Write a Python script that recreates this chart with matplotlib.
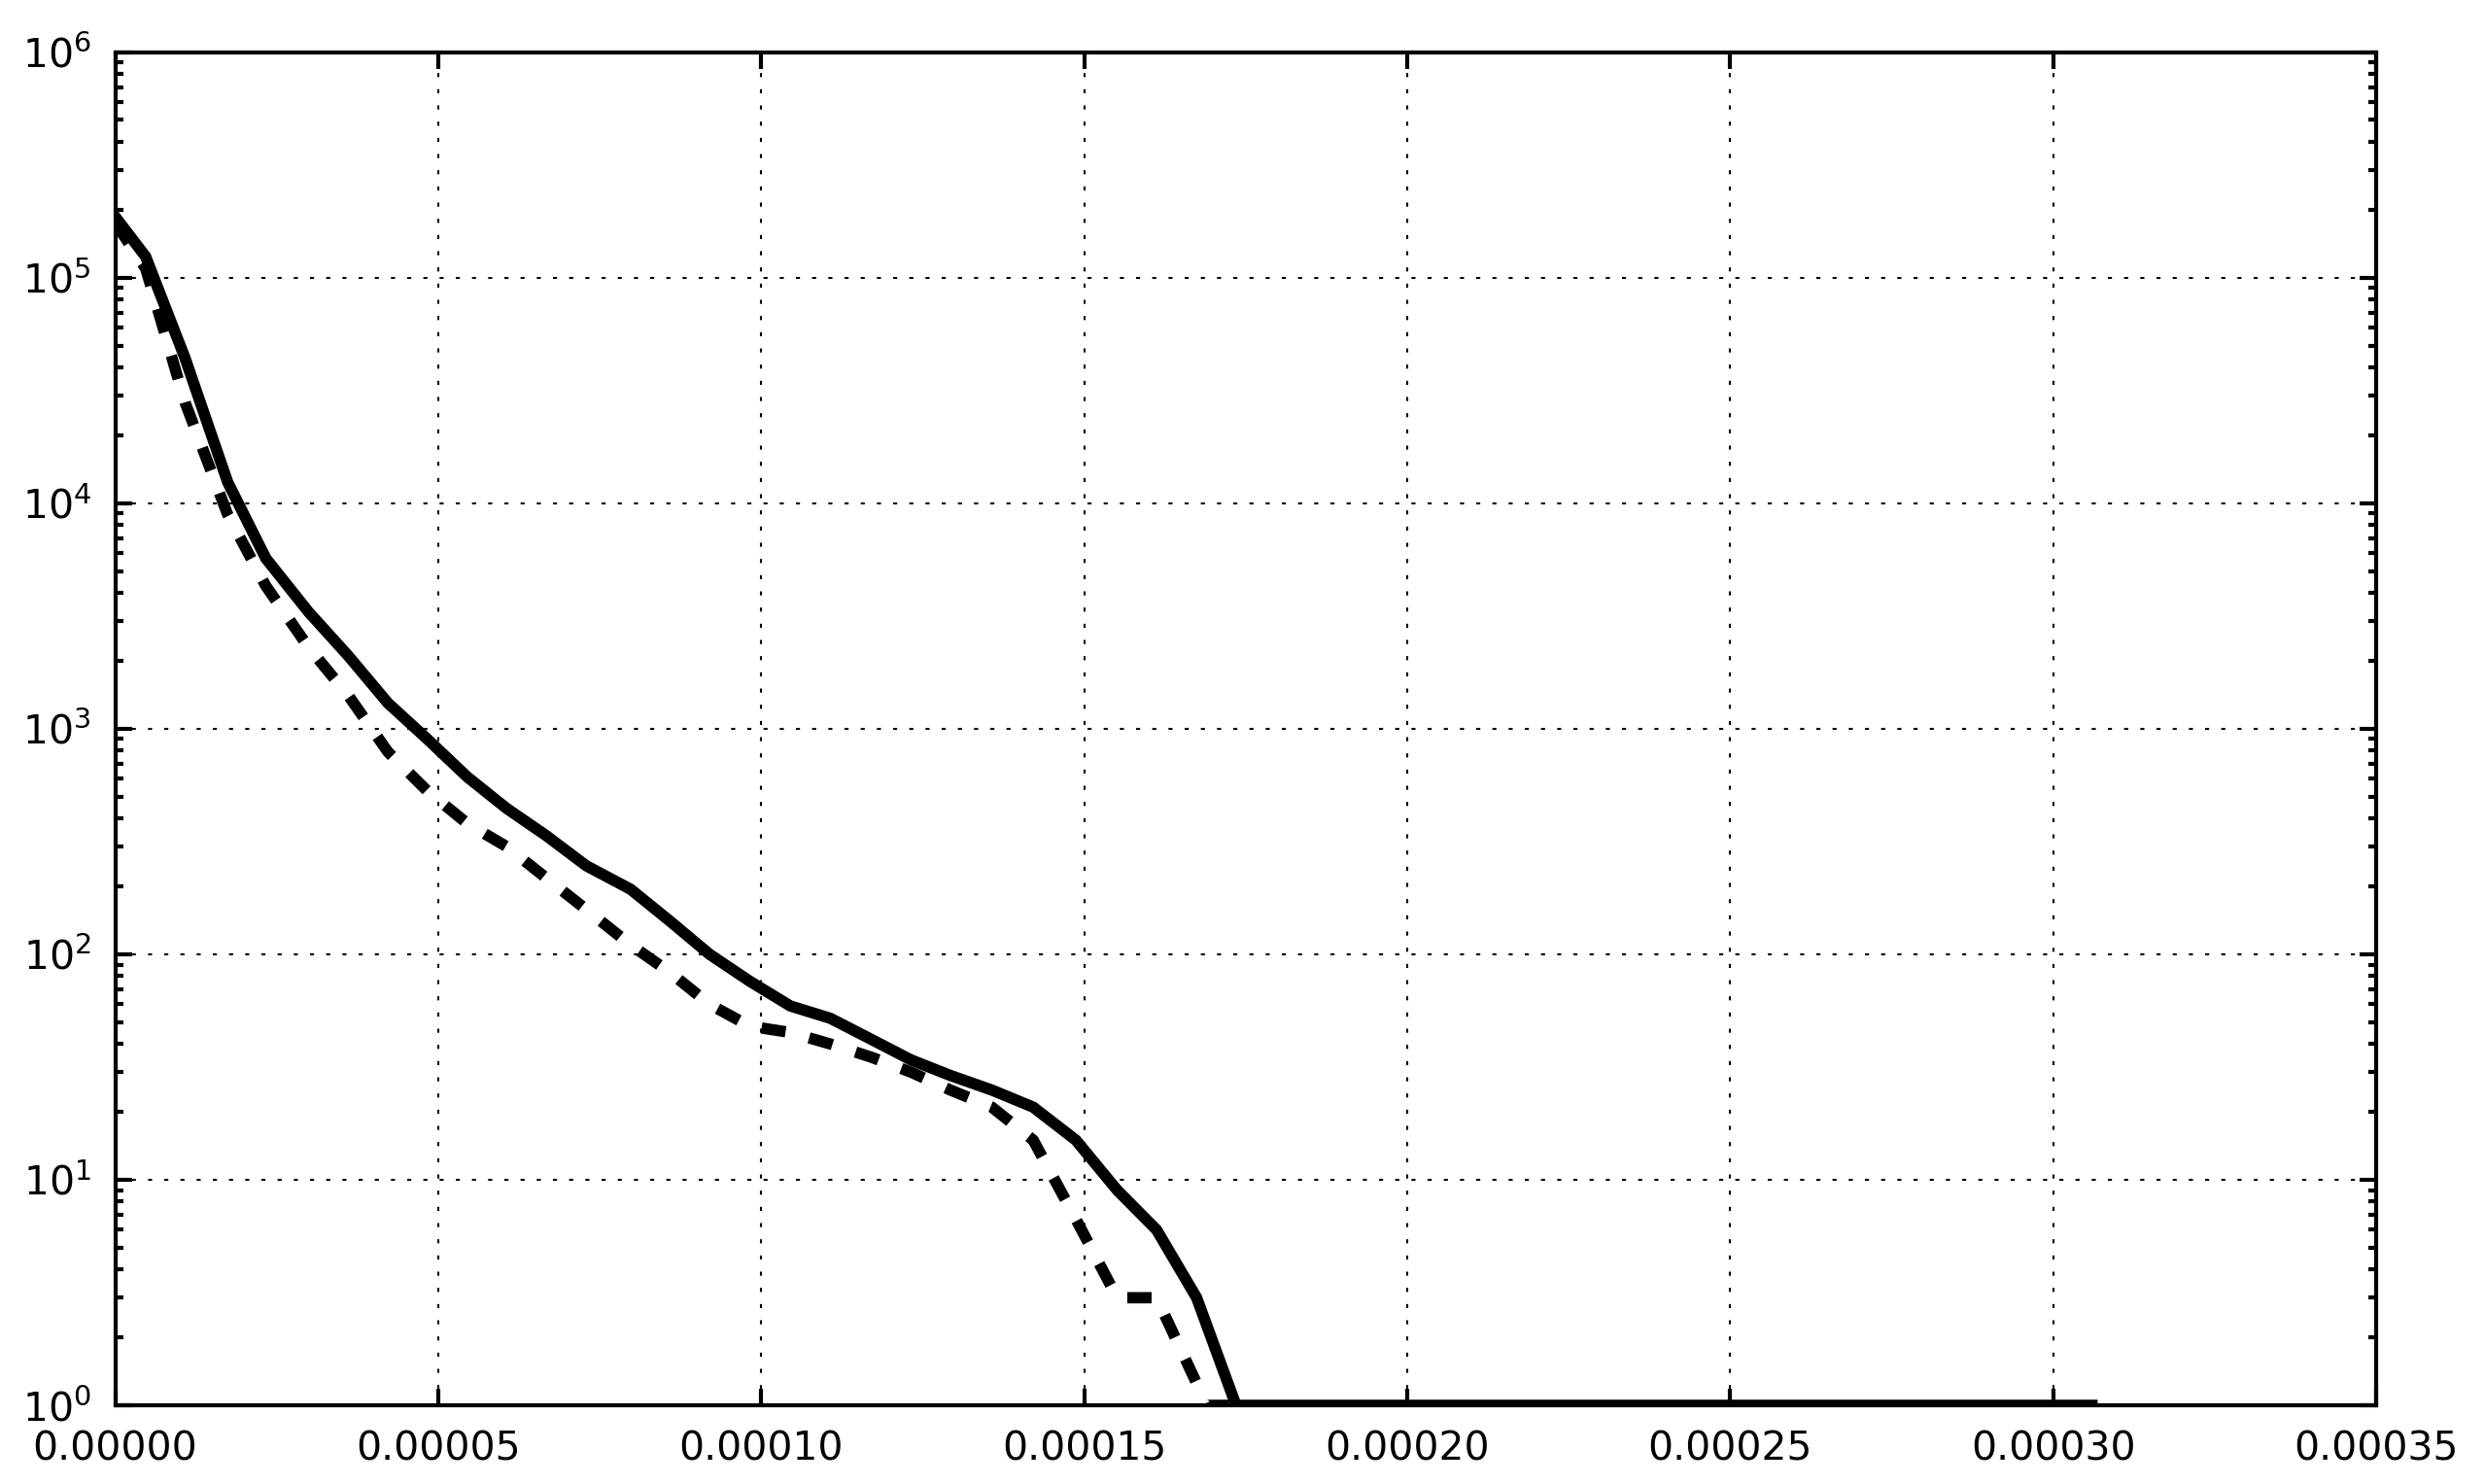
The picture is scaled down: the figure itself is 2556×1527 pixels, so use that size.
import matplotlib
matplotlib.use("Agg")
import matplotlib.pyplot as plt
from matplotlib.ticker import FormatStrFormatter, MultipleLocator

# classic-looking settings
plt.rcParams['lines.scale_dashes'] = False
plt.rcParams['xtick.direction'] = 'in'
plt.rcParams['ytick.direction'] = 'in'
plt.rcParams['xtick.top'] = True
plt.rcParams['ytick.right'] = True
plt.rcParams['xtick.major.size'] = 4
plt.rcParams['ytick.major.size'] = 4
plt.rcParams['ytick.minor.size'] = 2
plt.rcParams['xtick.major.pad'] = 6
plt.rcParams['ytick.major.pad'] = 6
plt.rcParams['font.size'] = 9.8

# solid curve
x_solid = [0.0, 4.7e-6, 1.08e-5, 1.74e-5, 2.33e-5, 2.99e-5, 3.61e-5, 4.22e-5,
           4.83e-5, 5.45e-5, 6.06e-5, 6.67e-5, 7.29e-5, 7.98e-5, 8.59e-5,
           9.2e-5, 9.82e-5, 1.045e-4, 1.107e-4, 1.17e-4, 1.232e-4, 1.293e-4,
           1.357e-4, 1.421e-4, 1.487e-4, 1.551e-4, 1.612e-4, 1.674e-4,
           1.735e-4, 2.0e-4, 2.5e-4, 3.06e-4]
y_solid = [1.86e5, 1.24e5, 4.4e4, 1.24e4, 5.7e3, 3.3e3, 2.1e3, 1.3e3,
           900, 611, 443, 336, 247, 194, 140,
           100, 76, 59, 52, 42, 34, 29,
           25, 21, 15, 9, 6, 3,
           1, 1, 1, 1]

# dashed curve
x_dash = [0.0, 4.7e-6, 1.08e-5, 1.74e-5, 2.33e-5, 2.99e-5, 3.61e-5, 4.22e-5,
          4.83e-5, 5.45e-5, 6.06e-5, 6.67e-5, 7.29e-5, 7.98e-5, 8.59e-5,
          9.2e-5, 9.82e-5, 1.045e-4, 1.107e-4, 1.17e-4, 1.232e-4, 1.293e-4,
          1.357e-4, 1.421e-4, 1.487e-4, 1.551e-4, 1.612e-4, 1.69e-4, 1.75e-4]
y_dash = [1.75e5, 1.1e5, 2.8e4, 8.9e3, 4.3e3, 2.3e3, 1.4e3, 790,
          530, 380, 300, 218, 158, 110, 83,
          60, 48, 45, 40, 35, 30, 25,
          21, 15, 6.7, 3, 3, 1, 1]

fig = plt.figure(figsize=(8.52, 5.09), dpi=300)
ax = fig.add_axes([0.0464, 0.0530, 0.9102, 0.9119])

ax.plot(x_solid, y_solid, color='black', linewidth=2.8, solid_joinstyle='miter')
ax.plot(x_dash, y_dash, color='black', linewidth=2.8, linestyle=(0, (6, 6)),
        dash_capstyle='butt')

ax.set_yscale('log')
ax.set_xlim(0, 0.00035)
ax.set_ylim(1, 1e6)
ax.xaxis.set_major_locator(MultipleLocator(0.00005))
ax.xaxis.set_major_formatter(FormatStrFormatter('%.5f'))
ax.grid(True, color='black', linestyle=(0, (1, 3)), linewidth=0.5)
ax.tick_params(which='both', colors='black', width=1)
for s in ax.spines.values():
    s.set_linewidth(1)

fig.savefig('out.png', dpi=300)
